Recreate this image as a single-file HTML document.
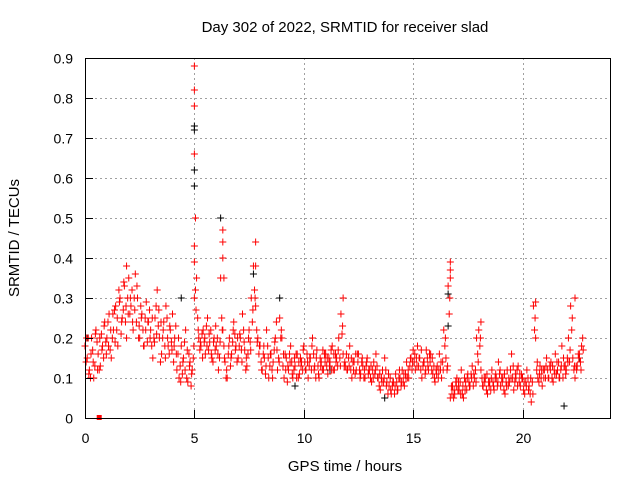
<!DOCTYPE html>
<html><head><meta charset="utf-8"><style>
body{margin:0;background:#fff;}
svg{display:block;font-family:"Liberation Sans",sans-serif;}
</style></head><body>
<svg id="chart" width="640" height="480" viewBox="0 0 640 480">
<rect x="0" y="0" width="640" height="480" fill="#fff"/>
<g id="grid"></g>
<g id="marks"></g>
<rect x="85.5" y="58.5" width="525" height="360" fill="none" stroke="#000" stroke-width="1"/>
<g id="ticks"></g>
<text x="345" y="32" font-size="15" text-anchor="middle">Day 302 of 2022, SRMTID for receiver slad</text>
<text x="345" y="471" font-size="15" text-anchor="middle">GPS time / hours</text>
<text transform="translate(19,238) rotate(-90)" font-size="15" text-anchor="middle">SRMTID / TECUs</text>
</svg>
<script>
const xTicks=[0,5,10,15,20];
const yTicks=[0,0.1,0.2,0.3,0.4,0.5,0.6,0.7,0.8,0.9];
const yTickLabels=["0","0.1","0.2","0.3","0.4","0.5","0.6","0.7","0.8","0.9"];
const redA=[0.18,0.15,0.12,0.2,0.1,0.22,0.16,0.13,0.18,0.24,
0.2,0.26,0.15,0.22,0.28,0.18,0.3,0.25,0.33,0.2,
0.35,0.28,0.22,0.36,0.3,0.2,0.26,0.18,0.29,0.24,
0.22,0.15,0.25,0.32,0.2,0.16,0.24,0.28,0.18,0.22,
0.26,0.2,0.12,0.1,0.18,0.15,0.22,0.09,0.14,0.12,
0.3,0.35,0.2,0.18,0.22,0.16,0.25,0.19,0.15,0.2,
0.18,0.12,0.35,0.22,0.14,0.1,0.2,0.16,0.24,0.18,
0.15,0.2,0.26,0.17,0.13,0.22,0.3,0.38,0.28,0.2,
0.18,0.12,0.15,0.22,0.1,0.16,0.14,0.2,0.12,0.25,
0.2,0.1,0.15,0.12,0.18,0.1,0.13,0.16,0.11,0.14,
0.18,0.12,0.1,0.15,0.2,0.13,0.17,0.1,0.14,0.12,
0.16,0.11,0.14,0.18,0.12,0.15,0.2,0.26,0.16,0.13,
0.12,0.18,0.1,0.14,0.12,0.16,0.11,0.13,0.1,0.15,
0.12,0.09,0.14,0.16,0.1,0.07,0.12,0.15,0.09,0.08,
0.06,0.09,0.11,0.07,0.1,0.12,0.08,0.14,0.1,0.15,
0.17,0.12,0.18,0.15,0.1,0.14,0.17,0.12,0.16,0.11,
0.09,0.13,0.16,0.1,0.22,0.15,0.33,0.05,0.08,0.06,
0.1,0.07,0.12,0.05,0.09,0.11,0.08,0.13,0.1,0.2,
0.22,0.12,0.08,0.1,0.06,0.09,0.12,0.07,0.1,0.14,
0.08,0.1,0.06,0.12,0.09,0.16,0.07,0.1,0.13,0.08,
0.1,0.06,0.12,0.08,0.04,0.28,0.2,0.1,0.13,0.08,
0.12,0.15,0.1,0.14,0.09,0.16,0.12,0.1,0.18,0.13,
0.12,0.2,0.28,0.15,0.1,0.13,0.16,0.18];
const redB=[0.14,0.2,0.1,0.17,0.13,0.19,0.12,0.21,0.15,0.19,
0.24,0.17,0.2,0.27,0.22,0.32,0.21,0.27,0.24,0.3,
0.26,0.32,0.3,0.24,0.2,0.28,0.22,0.25,0.19,0.27,
0.18,0.2,0.28,0.23,0.14,0.2,0.18,0.25,0.16,0.19,
0.14,0.23,0.16,0.13,0.11,0.19,0.1,0.16,0.08,0.15,
0.32,0.25,0.17,0.21,0.19,0.23,0.17,0.22,0.14,0.17,
0.2,0.15,0.25,0.18,0.1,0.16,0.13,0.19,0.21,0.14,
0.18,0.17,0.22,0.12,0.16,0.19,0.24,0.32,0.22,0.16,
0.14,0.16,0.11,0.18,0.13,0.12,0.17,0.24,0.15,0.2,
0.13,0.16,0.09,0.16,0.14,0.12,0.16,0.1,0.15,0.12,
0.14,0.16,0.13,0.12,0.16,0.1,0.13,0.15,0.12,0.16,
0.13,0.15,0.17,0.12,0.16,0.13,0.15,0.21,0.13,0.16,
0.15,0.12,0.14,0.11,0.16,0.12,0.14,0.1,0.13,0.11,
0.1,0.12,0.11,0.13,0.08,0.1,0.09,0.12,0.06,0.1,
0.08,0.06,0.09,0.1,0.08,0.09,0.11,0.1,0.13,0.12,
0.14,0.15,0.13,0.12,0.13,0.11,0.15,0.16,0.12,0.13,
0.12,0.1,0.12,0.14,0.18,0.12,0.26,0.08,0.05,0.09,
0.07,0.09,0.06,0.1,0.07,0.09,0.11,0.08,0.12,0.16,
0.18,0.1,0.1,0.07,0.09,0.07,0.09,0.1,0.08,0.11,
0.1,0.07,0.09,0.08,0.12,0.1,0.09,0.12,0.09,0.11,
0.07,0.09,0.1,0.06,0.09,0.22,0.12,0.09,0.1,0.12,
0.1,0.12,0.13,0.1,0.12,0.11,0.14,0.12,0.1,0.13,
0.15,0.14,0.22,0.12,0.13,0.16,0.14,0.2];
const redC=[0.2,0.11,0.16,0.14,0.21,0.12,0.2,0.17,0.23,0.16,
0.18,0.22,0.26,0.19,0.25,0.29,0.24,0.34,0.28,0.26,
0.3,0.24,0.27,0.33,0.23,0.25,0.18,0.22,0.24,0.2,
0.25,0.19,0.21,0.27,0.24,0.22,0.15,0.2,0.23,0.17,
0.18,0.16,0.2,0.09,0.14,0.12,0.17,0.13,0.11,0.18,
0.27,0.22,0.19,0.15,0.2,0.18,0.21,0.16,0.19,0.23,
0.16,0.19,0.22,0.15,0.12,0.18,0.15,0.22,0.17,0.2,
0.21,0.14,0.19,0.15,0.2,0.17,0.27,0.3,0.19,0.18,
0.12,0.18,0.13,0.15,0.16,0.1,0.19,0.17,0.14,0.22,
0.16,0.12,0.13,0.14,0.11,0.15,0.1,0.14,0.13,0.17,
0.12,0.14,0.15,0.18,0.12,0.15,0.11,0.13,0.17,0.14,
0.15,0.13,0.12,0.16,0.14,0.17,0.13,0.23,0.14,0.12,
0.13,0.15,0.12,0.16,0.14,0.1,0.15,0.12,0.14,0.12,
0.13,0.1,0.12,0.1,0.11,0.09,0.1,0.08,0.11,0.07,
0.09,0.08,0.07,0.12,0.09,0.11,0.1,0.12,0.15,0.14,
0.16,0.13,0.15,0.17,0.14,0.12,0.13,0.14,0.15,0.1,
0.11,0.12,0.14,0.12,0.2,0.13,0.3,0.06,0.07,0.08,
0.09,0.06,0.08,0.07,0.1,0.08,0.1,0.11,0.09,0.14,
0.2,0.08,0.09,0.11,0.08,0.1,0.08,0.11,0.09,0.12,
0.09,0.11,0.08,0.1,0.1,0.13,0.11,0.08,0.11,0.1,
0.09,0.08,0.07,0.1,0.06,0.25,0.14,0.11,0.12,0.1,
0.13,0.1,0.12,0.13,0.11,0.14,0.1,0.13,0.15,0.11,
0.14,0.17,0.25,0.13,0.12,0.15,0.12,0.17];
const redExtraT=[5.0,5.0,5.0,5.0,5.05,5.0,5.0,6.3,6.3,6.3,6.35,7.8,7.8,16.7,16.7,16.7,11.8,20.6,22.4,1.9,18.1];
const redExtraV=[0.88,0.82,0.78,0.66,0.5,0.43,0.39,0.47,0.44,0.4,0.35,0.44,0.38,0.39,0.37,0.35,0.3,0.29,0.3,0.38,0.24];
const blackT=[5.0,5.0,5.0,5.0,6.2,8.9,16.6,16.6,21.9,22.6,4.4,0.1,7.7,13.7,9.6,11.2];
const blackV=[0.73,0.72,0.62,0.58,0.5,0.3,0.31,0.23,0.03,0.15,0.3,0.2,0.36,0.05,0.08,0.12];
const step=0.1;

const X0=85,X1=610,Y0=418,Y1=58,XMAX=24,YMAX=0.9;
const xs=t=>X0+(X1-X0)*t/XMAX;
const ys=v=>Y0-(Y0-Y1)*v/YMAX;
const NS="http://www.w3.org/2000/svg";
function mk(tag,attrs,parent){const e=document.createElementNS(NS,tag);for(const k in attrs)e.setAttribute(k,attrs[k]);parent.appendChild(e);return e;}
const grid=document.getElementById('grid'),ticks=document.getElementById('ticks'),marks=document.getElementById('marks');
yTicks.forEach((v,i)=>{
  const y=Math.round(ys(v))+0.5;
  if(i>0){const g=mk('line',{x1:X0,x2:X1,y1:y,y2:y,stroke:'#a0a0a0','stroke-dasharray':'2,3'},grid);
  
  }
  const l=mk('line',{x1:X0,x2:X0+8,y1:y,y2:y,stroke:'#000'},ticks);
  
  
  const t=mk('text',{x:73,y:y+5,'font-size':14,'text-anchor':'end'},ticks);t.textContent=yTickLabels[i];
  
  
});
xTicks.forEach(v=>{
  const x=Math.round(xs(v))+0.5;
  if(v>0){const g=mk('line',{x1:x,x2:x,y1:Y1,y2:Y0,stroke:'#a0a0a0','stroke-dasharray':'2,3'},grid);
  
  }
  const l=mk('line',{x1:x,x2:x,y1:Y0,y2:Y0-8,stroke:'#000'},ticks);
  
  
  const t=mk('text',{x:x,y:443,'font-size':14,'text-anchor':'middle'},ticks);t.textContent=String(v);
  
  
});
function plus(t,v,color,name){
  const x=xs(t),y=ys(v);
  const p=mk('path',{d:`M${x-3.5},${y}h7M${x},${y-3.5}v7`,stroke:color,'stroke-width':1,fill:'none'},marks);
  
  
}
blackT.forEach((t,i)=>plus(t,blackV[i],'#000','black-point'));
redA.forEach((v,i)=>plus(i*step,v,'#f00','red-point'));
redB.forEach((v,i)=>plus(i*step+0.05,v,'#f00','red-point'));
redC.forEach((v,i)=>plus(i*step+0.075,v,'#f00','red-point'));
redExtraT.forEach((t,i)=>plus(t,redExtraV[i],'#f00','red-point'));
const sq=mk('rect',{x:xs(0.65)-2.5,y:ys(0)-3,width:5,height:5,fill:'#f00'},marks);


</script>
</body></html>
